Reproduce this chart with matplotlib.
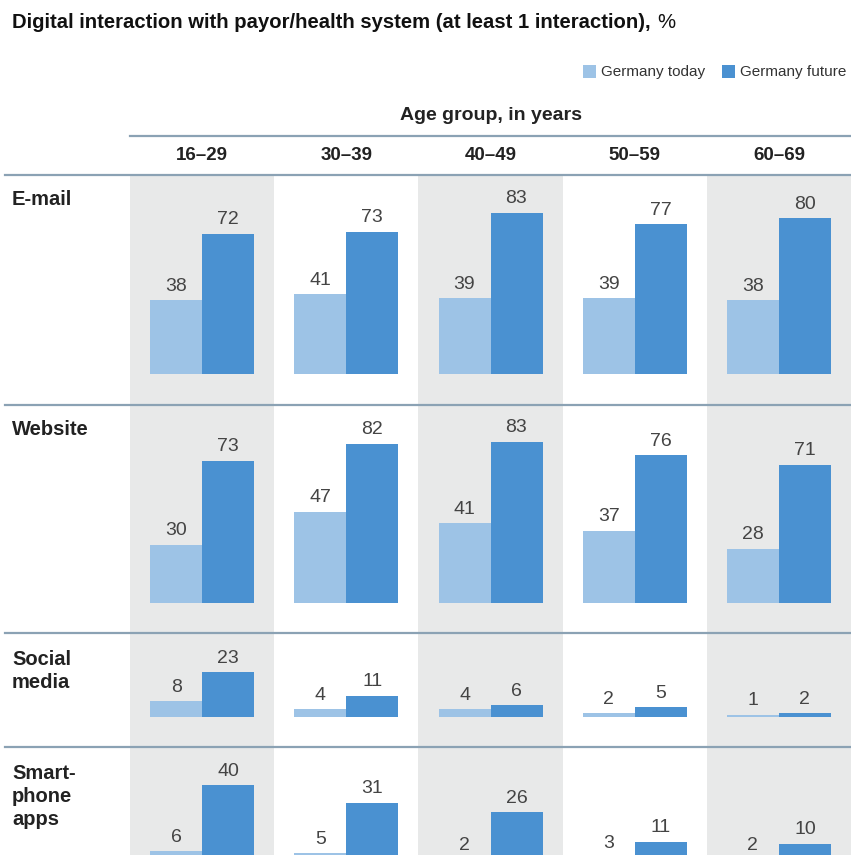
import matplotlib.pyplot as plt
from matplotlib.patches import Rectangle

plt.rcParams['font.family'] = ['Liberation Sans', 'DejaVu Sans']

title = 'Digital interaction with payor/health system (at least 1 interaction),'
age_groups = ['16–29', '30–39', '40–49', '50–59', '60–69']
channels = ['E-mail', 'Website', 'Social\nmedia', 'Smart-\nphone\napps']
today = [
    [38, 41, 39, 39, 38],
    [30, 47, 41, 37, 28],
    [8, 4, 4, 2, 1],
    [6, 5, 2, 3, 2],
]
future = [
    [72, 73, 83, 77, 80],
    [73, 82, 83, 76, 71],
    [23, 11, 6, 5, 2],
    [40, 31, 26, 11, 10],
]

LIGHT = '#9dc3e6'
DARK = '#4a91d1'
BAND = '#e8e9e9'
RULE = '#8ba2b4'
W, H = 851, 855
PX_PER_PCT = 1.945

fig = plt.figure(figsize=(W / 100, H / 100), dpi=100)

# background axes in pixel coordinates for bands, rules and headers
bg = fig.add_axes([0, 0, 1, 1])
bg.set_xlim(0, W)
bg.set_ylim(H, 0)
bg.axis('off')

col_left, col_w = 130, 144.2
for i in range(len(age_groups)):
    if i % 2 == 0:
        bg.add_patch(Rectangle((col_left + i * col_w, 175), col_w, H - 175,
                               color=BAND, lw=0, zorder=0))

t = bg.text(12, 22, title, fontsize=14.6, fontweight='bold', va='center', ha='left',
            color='#111111')
bg.annotate('%', xy=(1, 0.5), xycoords=t, xytext=(5, 0), textcoords='offset points',
            fontsize=14.6, va='center', ha='left', color='#111111')

# legend
bg.add_patch(Rectangle((583, 65), 13, 13, color=LIGHT, lw=0))
bg.text(601, 72, 'Germany today', fontsize=11, va='center', color='#333333')
bg.add_patch(Rectangle((722, 65), 13, 13, color=DARK, lw=0))
bg.text(740, 72, 'Germany future', fontsize=11, va='center', color='#333333')

bg.text(col_left + 2.5 * col_w, 116, 'Age group, in years', fontsize=14,
        fontweight='bold', ha='center', va='center', color='#222222')
bg.plot([col_left, W], [136, 136], color=RULE, lw=1.6)
for i, g in enumerate(age_groups):
    bg.text(col_left + (i + 0.5) * col_w, 156, g, fontsize=13.5, fontweight='bold',
            ha='center', va='center', color='#222222')

# rows: (top rule, bar baseline)
rows = [(175, 374), (405, 603), (633, 717), (747, 863)]
label_tops = [190, 420, 650, 764]
for r, (top, base) in enumerate(rows):
    bg.plot([5, W], [top, top], color=RULE, lw=1.6, zorder=3)
    bg.text(12, label_tops[r], channels[r], fontsize=14.5, fontweight='bold',
            ha='left', va='top', color='#222222', linespacing=1.25)

    ax = fig.add_axes([col_left / W, (H - base) / H, 5 * col_w / W, (base - top) / H])
    ax.set_xlim(0, 5)
    ax.set_ylim(0, (base - top) / PX_PER_PCT)
    ax.axis('off')
    ax.patch.set_alpha(0)
    bw = 52 / col_w
    xs = [i + 0.5 for i in range(5)]
    ax.bar([x - bw / 2 for x in xs], today[r], width=bw, color=LIGHT, lw=0)
    ax.bar([x + bw / 2 for x in xs], future[r], width=bw, color=DARK, lw=0)
    for x, tv, fv in zip(xs, today[r], future[r]):
        ax.annotate(str(tv), (x - bw / 2, tv), xytext=(0, 4), textcoords='offset points',
                    ha='center', va='bottom', fontsize=14, color='#444444')
        ax.annotate(str(fv), (x + bw / 2, fv), xytext=(0, 4), textcoords='offset points',
                    ha='center', va='bottom', fontsize=14, color='#444444')

fig.savefig('out.png', dpi=100)
